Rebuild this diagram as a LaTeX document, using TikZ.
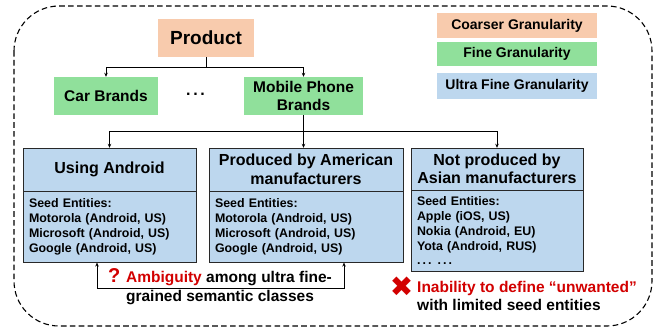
\documentclass[tikz,border=0pt]{standalone}
\usepackage{fontspec}
\setmainfont{Liberation Sans}
\newfontfamily\symfont{DejaVu Sans}
\usetikzlibrary{arrows.meta}

\definecolor{coarsefill}{RGB}{248,203,173}
\definecolor{finefill}{RGB}{144,224,155}
\definecolor{ultrafill}{RGB}{189,215,238}
\definecolor{warnred}{RGB}{210,0,0}
\definecolor{boxline}{RGB}{40,40,40}

\tikzset{
  coarse/.style={fill=coarsefill, inner sep=0pt, font=\bfseries},
  fine/.style={fill=finefill, inner sep=0pt, font=\bfseries, align=center},
  legend/.style={inner sep=0pt, minimum width=160, font=\fontsize{14}{16}\selectfont\bfseries},
  head/.style={draw=boxline, fill=ultrafill, inner sep=0pt, align=center, minimum height=43, font=\fontsize{16}{18.5}\selectfont\bfseries},
  seeds/.style={draw=boxline, fill=ultrafill, inner sep=0pt, align=left, font=\fontsize{12.4}{14.8}\selectfont\bfseries},
  arr/.style={-{Stealth[length=4pt,width=3.5pt]}, line width=0.8pt},
}

\begin{document}
\begin{tikzpicture}[x=1pt,y=1pt,yscale=-1]
\useasboundingbox (0,0) rectangle (657,330);

%Shape: Rounded Rect (dashed frame)
\draw [dashed, dash pattern=on 5.6pt off 3.3pt, line width=1.1pt, rounded corners=45] (14,6) rectangle (652,326);

% Hierarchy
\node [coarse, minimum width=96, minimum height=38, font=\fontsize{19}{21}\selectfont\bfseries] (product) at (206,38) {Product};
\node [fine, minimum width=104, minimum height=38, font=\fontsize{15.5}{18}\selectfont\bfseries] (car) at (106,96) {Car Brands};
\node [font=\fontsize{16}{18}\selectfont\bfseries] (dots) at (195.5,94) {\frenchspacing .\,.\,.};
\node [fine, minimum width=119, minimum height=38, font=\fontsize{15.5}{18}\selectfont\bfseries] (mobile) at (303.5,96) {Mobile Phone\\Brands};

% Legend
\node [legend, fill=coarsefill, minimum height=25] (lgcoarse) at (517,25.5) {Coarser Granularity};
\node [legend, fill=finefill, minimum height=24] (lgfine) at (517,54) {Fine Granularity};
\node [legend, fill=ultrafill, minimum height=26] (lgultra) at (517,86) {Ultra Fine Granularity};

% Ultra fine classes
\node [head, minimum width=173] (android) at (109.5,169.5) {Using Android};
\node [seeds, minimum width=173, minimum height=71, text width=161, anchor=north] (seedsA) at (android.south) {Seed Entities:\\Motorola (Android, US)\\Microsoft (Android, US)\\Google (Android, US)};
\node [head, minimum width=194] (american) at (306,169.5) {Produced by American\\manufacturers};
\node [seeds, minimum width=194, minimum height=71, text width=182, anchor=north] (seedsB) at (american.south) {Seed Entities:\\Motorola (Android, US)\\Microsoft (Android, US)\\Google (Android, US)};
\node [head, minimum width=172, minimum height=42] (asian) at (497,169) {Not produced by\\Asian manufacturers};
\node [seeds, minimum width=172, minimum height=81, text width=160, anchor=north] (seedsC) at (asian.south) {Seed Entities:\\Apple (iOS, US)\\Nokia (Android, EU)\\Yota (Android, RUS)\\.\,.\,. .\,.\,.};

% Connectors
\draw [arr] (product.south) -- ++(0,10) -| (car.north);
\draw [arr] (product.south) -- ++(0,10) -| (mobile.north);
\draw [arr] (mobile.south) -- (mobile.south |- american.north);
\draw [arr] (mobile.south) -- ++(0,16.5) -| (android.north);
\draw [arr] (mobile.south) -- ++(0,16.5) -| (asian.north);

% Ambiguity
\coordinate (ambL) at (97,288);
\coordinate (ambR) at (344,288);
\draw [arr, {Stealth[length=4pt,width=3.5pt]}-{Stealth[length=4pt,width=3.5pt]}] (ambL |- seedsA.south) -- (ambL) -- (ambR) -- (ambR |- seedsB.south);
\node [align=center, font=\fontsize{15.5}{19}\selectfont\bfseries] (ambtext) at (220,286.5) {{\color{warnred}\fontsize{20}{19}\selectfont ?} {\color{warnred}Ambiguity} among ultra fine-\\grained semantic classes};

% Inability
\node [align=left, anchor=west, inner sep=0pt, font=\fontsize{15.5}{18.5}\selectfont\bfseries] (inability) at (417,296) {{\color{warnred}Inability to define “unwanted”}\\with limited seed entities};
\node [text=warnred, inner sep=0pt, font=\symfont\fontsize{28}{28}\selectfont] (cross) at (401.5,287) {✖};

\end{tikzpicture}
\end{document}
